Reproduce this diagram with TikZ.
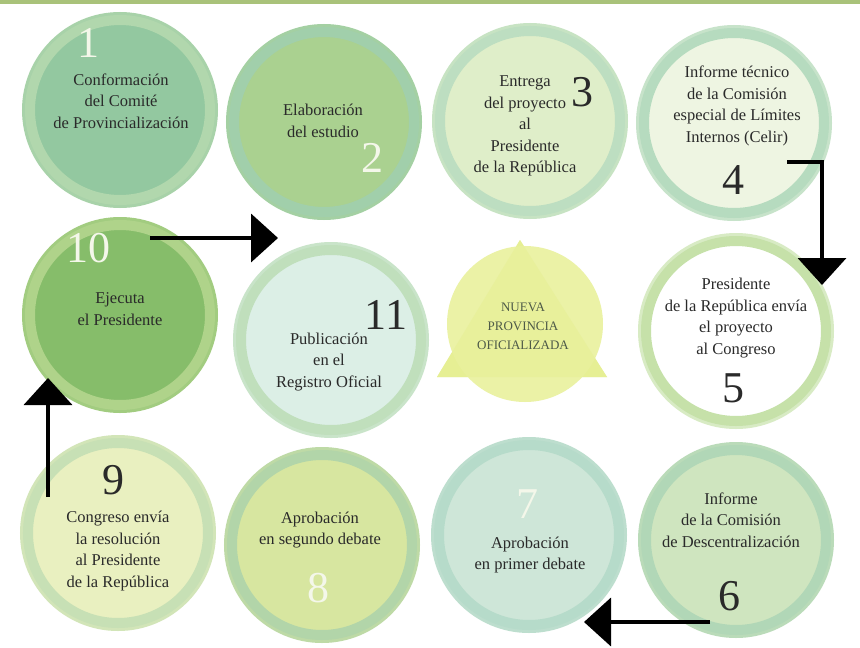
\documentclass[tikz,border=0pt]{standalone}
\usepackage{fontspec}
\setmainfont{Liberation Serif}
\usetikzlibrary{arrows.meta}
\definecolor{topbar}{HTML}{A9C27A}
\definecolor{txt}{HTML}{2A2A2A}
\definecolor{numw}{HTML}{F4F7EA}
\definecolor{embtxt}{HTML}{4E5A48}
\definecolor{embtri}{HTML}{E6EF94}
\definecolor{embcirc}{HTML}{EBF2A6}
\definecolor{fA}{HTML}{93C8A0}\definecolor{rA}{HTML}{B9DBB0}
\definecolor{fB}{HTML}{AAD190}\definecolor{rB}{HTML}{9FCFB2}
\definecolor{fC}{HTML}{DFEEC9}\definecolor{rC}{HTML}{B4DABF}
\definecolor{fD}{HTML}{EEF5E2}\definecolor{rD}{HTML}{A8D4B6}
\definecolor{fE}{HTML}{FFFFFF}\definecolor{rE}{HTML}{B8DA94}
\definecolor{fF}{HTML}{CFE5BF}\definecolor{rF}{HTML}{A9D3B5}
\definecolor{fG}{HTML}{CEE6D8}\definecolor{rG}{HTML}{B0D8C6}
\definecolor{fH}{HTML}{D7E6A0}\definecolor{rH}{HTML}{A9D1AB}
\definecolor{fI}{HTML}{E9F0C0}\definecolor{rI}{HTML}{BFDCB2}
\definecolor{fJ}{HTML}{86BD6A}\definecolor{rJ}{HTML}{B9D892}
\definecolor{fK}{HTML}{DCEFE6}\definecolor{rK}{HTML}{B9DBB2}
\tikzset{
  stage/.style 2 args={circle, inner sep=0pt, minimum size=180pt, line width=10pt, fill=#1, draw=#2!80!#1,
    preaction={draw=#2!55!#1, line width=16pt}},
  label/.style={align=center, text=txt, font=\fontsize{16.5}{21.5}\selectfont},
  num/.style={font=\fontsize{44}{44}\selectfont, inner sep=0pt},
  flowarrow/.style={line width=4pt, -{Triangle[length=27pt,width=48pt]}},
}
\begin{document}
\begin{tikzpicture}[x=1pt,y=-1pt]
\useasboundingbox (0,0) rectangle (860,648);
\fill[white] (0,0) rectangle (860,648);
\fill[topbar] (0,0) rectangle (860,4);
% circles
\node[stage={fA}{rA}] (c1) at (120,110) {};
\node[stage={fB}{rB}] (c2) at (324,122) {};
\node[stage={fC}{rC}] (c3) at (530,121) {};
\node[stage={fD}{rD}] (c4) at (734,123) {};
\node[stage={fE}{rE}] (c5) at (736,331) {};
\node[stage={fF}{rF}] (c6) at (736,540) {};
\node[stage={fG}{rG}] (c7) at (529,535) {};
\node[stage={fH}{rH}] (c8) at (322,545) {};
\node[stage={fI}{rI}] (c9) at (118,533) {};
\node[stage={fJ}{rJ}] (c10) at (120,315) {};
\node[stage={fK}{rK}] (c11) at (331,340) {};
% centre emblem
\fill[embtri] (520,240) -- (607,377) -- (437,377) -- cycle;
\node[circle, inner sep=0pt, minimum size=156pt, fill=embcirc] (cc) at (525,324) {};
\fill[embtri, opacity=0.6] (520,240) -- (607,377) -- (437,377) -- cycle;
\node[align=center, text=embtxt, font=\fontsize{13}{19}\selectfont] (tc) at (523,326) {NUEVA\\PROVINCIA\\OFICIALIZADA};
% texts
\node[label] (t1) at (121,101) {Conformación\\del Comité\\de Provincialización};
\node[label] (t2) at (323,121) {Elaboración\\del estudio};
\node[label] (t3) at (525,126) {Entrega\\del proyecto\\al\\Presidente\\de la República};
\node[label] (t4) at (737,106) {Informe técnico\\de la Comisión\\especial de Límites\\Internos (Celir)};
\node[label] (t5) at (736,318) {Presidente\\de la República envía\\el proyecto\\al Congreso};
\node[label] (t6) at (731,520) {Informe\\de la Comisión\\de Descentralización};
\node[label] (t7) at (530,555) {Aprobación\\en primer debate};
\node[label] (t8) at (320,530) {Aprobación\\en segundo debate};
\node[label] (t9) at (118,551) {Congreso envía\\la resolución\\al Presidente\\de la República};
\node[label] (t10) at (120,309) {Ejecuta\\el Presidente};
\node[label] (t11) at (329,362) {Publicación\\en el\\Registro Oficial};
% numbers
\node[num, text=numw] (n1) at (88,43) {1};
\node[num, text=numw] (n2) at (372,158) {2};
\node[num, text=txt] (n3) at (582,92) {3};
\node[num, text=txt] (n4) at (733,180) {4};
\node[num, text=txt] (n5) at (733,388) {5};
\node[num, text=txt] (n6) at (729,596) {6};
\node[num, text=numw] (n7) at (527,504) {7};
\node[num, text=numw] (n8) at (318,588) {8};
\node[num, text=txt] (n9) at (113,480) {9};
\node[num, text=numw] (n10) at (88,248) {10};
\node[num, text=txt] (n11) at (386,315) {11};
% arrows
\coordinate (a1s) at (150,238);
\coordinate (a1e) at (278,238);
\draw[flowarrow] (a1s) -- (a1e);
\coordinate (a2s) at (787,162);
\coordinate (a2e) at (822,285);
\draw[flowarrow] (a2s) -| (a2e);
\coordinate (a3s) at (710,622);
\coordinate (a3e) at (584,622);
\draw[flowarrow] (a3s) -- (a3e);
\coordinate (a4s) at (48,497);
\coordinate (a4e) at (48,378);
\draw[flowarrow] (a4s) -- (a4e);
\end{tikzpicture}
\end{document}
